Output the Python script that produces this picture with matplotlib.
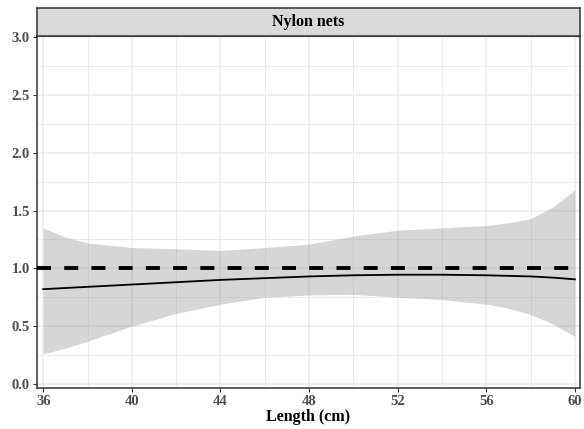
import numpy as np
import matplotlib.pyplot as plt

# values
length = [36, 37, 38, 40, 42, 44, 46, 48, 50, 52, 54, 56, 57, 58, 59, 60]
fit = [0.82, 0.83, 0.84, 0.86, 0.88, 0.90, 0.915, 0.93, 0.94, 0.945, 0.945, 0.94, 0.935, 0.93, 0.92, 0.905]
upper = [1.35, 1.27, 1.22, 1.18, 1.17, 1.155, 1.18, 1.21, 1.28, 1.33, 1.35, 1.37, 1.395, 1.43, 1.53, 1.68]
lower = [0.26, 0.31, 0.37, 0.50, 0.61, 0.69, 0.75, 0.77, 0.775, 0.75, 0.73, 0.69, 0.655, 0.60, 0.52, 0.41]
ref_level = 1.0
xticks = [36, 40, 44, 48, 52, 56, 60]
yticks = [0.0, 0.5, 1.0, 1.5, 2.0, 2.5, 3.0]
panel_title = "Nylon nets"

plt.rcParams['font.family'] = ['Liberation Serif', 'DejaVu Serif']
plt.rcParams['font.weight'] = 'bold'

fig = plt.figure(figsize=(5.84, 4.29), dpi=100)
ax = fig.add_axes([37 / 584, 41 / 429, 543 / 584, 352 / 429])

# ribbon is semi-transparent like geom_smooth, so grid shows through
ax.fill_between(length, lower, upper, color='#999999', alpha=0.4, lw=0, zorder=2)
ax.plot(length, fit, color='black', lw=1.3, zorder=3)
ax.axhline(ref_level, color='black', lw=2.8, ls=(0, (3.6, 3.4)), zorder=4)

ax.set_xlim(35.72, 60.23)
ax.set_ylim(-0.035, 3.01)
ax.set_xticks(xticks)
ax.set_yticks(yticks)
ax.set_xticks(np.arange(38, 60, 4), minor=True)
ax.set_yticks(np.arange(0.25, 3.0, 0.5), minor=True)
ax.set_yticklabels([f"{v:.1f}" for v in yticks])
ax.grid(which='major', color='#ebebeb', lw=1.1, zorder=0)
ax.grid(which='minor', color='#ebebeb', lw=0.7, zorder=0)
ax.set_axisbelow(True)
ax.tick_params(which='minor', length=0)
ax.tick_params(which='major', length=3, width=0.8, color='#333333', labelsize=10.5,
               labelcolor='#4d4d4d', pad=2)
for s in ax.spines.values():
    s.set_color('#333333')
    s.set_linewidth(1.1)
ax.set_xlabel("Length (cm)", fontsize=11.5, fontweight='bold', labelpad=1)

# facet strip
strip = fig.add_axes([37 / 584, 393 / 429, 543 / 584, 28 / 429])
strip.set_facecolor('#d9d9d9')
strip.set_xticks([])
strip.set_yticks([])
for s in strip.spines.values():
    s.set_color('#333333')
    s.set_linewidth(1.1)
strip.text(0.5, 0.5, panel_title, ha='center', va='center', fontsize=11.5,
           fontweight='bold', transform=strip.transAxes)

fig.savefig("out.png", dpi=100)
